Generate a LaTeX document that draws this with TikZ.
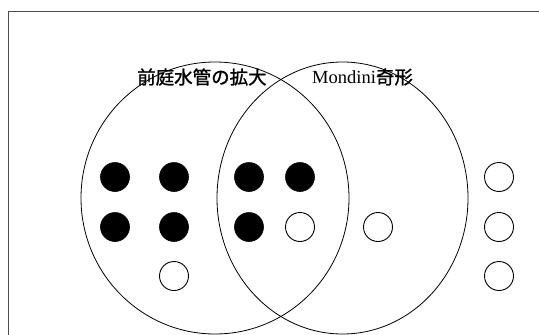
\documentclass[tikz,border=0pt]{standalone}
\usepackage{fontspec}
\setmainfont{Liberation Serif}
\newfontfamily\cjk[FakeBold=1.2]{Noto Sans CJK JP}
\usetikzlibrary{shapes.geometric}
\begin{document}
\begin{tikzpicture}[x=1pt,y=-1pt,
  setcircle/.style={draw,line width=0.8pt,ellipse,inner sep=0pt},
  fulldot/.style={circle,fill=black,draw=black,line width=0.6pt,minimum size=29pt,inner sep=0pt},
  opendot/.style={circle,draw=black,line width=0.9pt,minimum size=29pt,inner sep=0pt},
  label/.style={inner sep=0pt,font=\fontsize{18.5pt}{20pt}\selectfont}]
\useasboundingbox (0,0) rectangle (539,335);
\draw[line width=0.8pt,black!70] (8,340) coordinate (fbl) -- (8,11) coordinate (ftl) -- (545,11) coordinate (ftr);
\node[setcircle,minimum width=268pt,minimum height=272pt] (A) at (215,198) {};
\node[setcircle,minimum width=251pt,minimum height=272pt] (B) at (342.5,198) {};
\node[label,anchor=west] (la) at (137,77) {\cjk 前庭水管の拡大};
\node[label,anchor=west] (lb) at (312,77) {Mondini\cjk 奇形};
\node[fulldot] (d11) at (115,177) {};
\node[fulldot] (d12) at (174,177) {};
\node[fulldot] (d13) at (249,177) {};
\node[fulldot] (d14) at (300,177) {};
\node[fulldot] (d21) at (115,227) {};
\node[fulldot] (d22) at (174,227) {};
\node[fulldot] (d23) at (249,227) {};
\node[opendot] (o24) at (300,227) {};
\node[opendot] (o25) at (378,227) {};
\node[opendot] (o32) at (174,276) {};
\node[opendot] (o16) at (499,177) {};
\node[opendot] (o26) at (499,227) {};
\node[opendot] (o36) at (499,276) {};
\end{tikzpicture}
\end{document}
